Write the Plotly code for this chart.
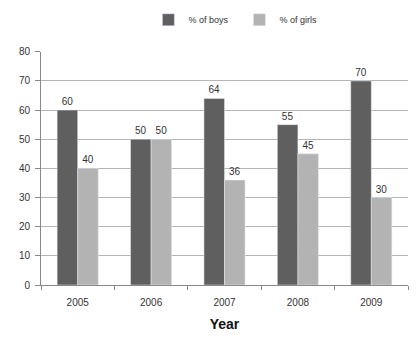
import plotly.graph_objects as go

years = ["2005", "2006", "2007", "2008", "2009"]
boys = [60, 50, 64, 55, 70]
girls = [40, 50, 36, 45, 30]

fig = go.Figure()
fig.add_trace(go.Bar(x=years, y=boys, name="% of boys", marker_color="#5f5f5f",
                     text=boys, textposition="outside", cliponaxis=False,
                     textfont=dict(size=10, color="#333333")))
fig.add_trace(go.Bar(x=years, y=girls, name="% of girls", marker_color="#b3b3b3",
                     text=girls, textposition="outside", cliponaxis=False,
                     textfont=dict(size=10, color="#333333")))

fig.update_layout(
    width=420, height=351,
    margin=dict(l=41, r=12, t=44, b=66),
    paper_bgcolor="white", plot_bgcolor="white",
    barmode="group", bargap=0.44, bargroupgap=0,
    font=dict(family="Liberation Sans, Arial, sans-serif", size=10, color="#333333"),
    legend=dict(orientation="h", xref="container", x=0.57, xanchor="center",
                yref="container", y=0.985, yanchor="top",
                font=dict(size=9), itemwidth=30, entrywidth=46,
                traceorder="normal"),
    xaxis=dict(showgrid=False, showline=True, linecolor="#888888", linewidth=1,
               ticks="outside", tickson="boundaries", ticklen=4, tickcolor="#888888",
               ticklabelstandoff=8,
               title=dict(text="<b>Year</b>", font=dict(size=14, color="#111111"), standoff=12),
               tickfont=dict(size=10)),
    yaxis=dict(range=[0, 80], dtick=10, showgrid=True, gridcolor="#b5b5b5", gridwidth=1,
               showline=True, linecolor="#888888", linewidth=1,
               ticks="outside", ticklen=5, tickcolor="#888888", ticklabelstandoff=3,
               tickfont=dict(size=10), zeroline=False),
)

fig.write_html("out.html")
